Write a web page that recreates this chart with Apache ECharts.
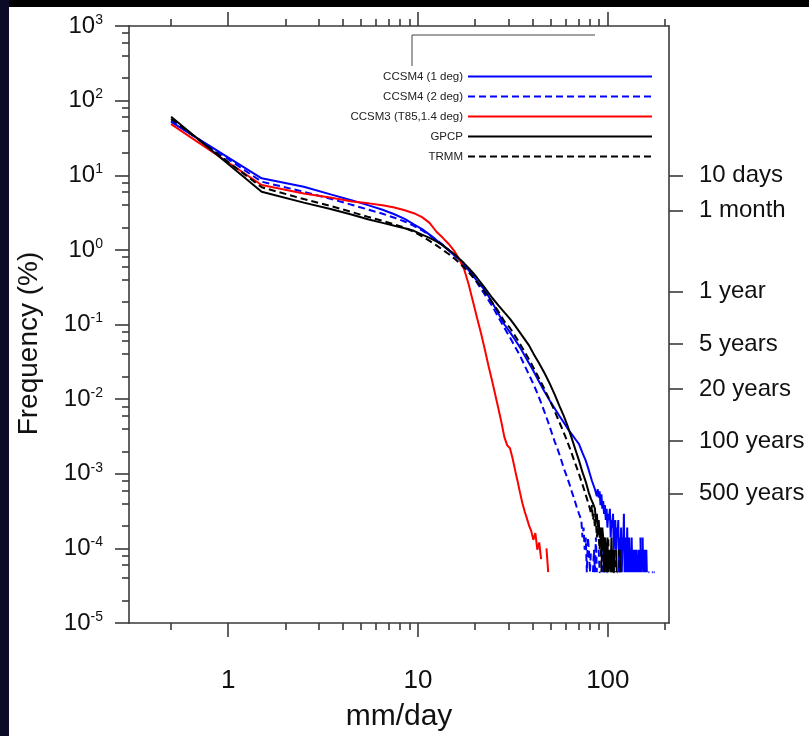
<!DOCTYPE html>
<html><head><meta charset="utf-8">
<script src="https://cdn.jsdelivr.net/npm/echarts@6/dist/echarts.min.js"></script>
<style>html,body{margin:0;padding:0;background:#000;}#c{width:809px;height:736px;}</style>
</head><body><div id="c"></div>
<script>
// ---------- data ----------
const seriesNames = ['CCSM4 (1 deg)', 'CCSM4 (2 deg)', 'CCSM3 (T85,1.4 deg)', 'GPCP', 'TRMM'];

const ccsm4_1X = [0.5,1.5,2.5,3.5,4.5,5.5,6.5,7.5,8.5,9.5,10.5,11.5,12.5,13.5,14.5,15.5,16.5,17.5,18.5,19.5,20.5,22.5,24.5,26.5,28.5,30.5,32.5,34.5,36.5,38.5,40.5,43.5,46.5,49.5,52.5,55.5,58.5,61.5,64.5,67.5,70.5,73.5,76.5,79.5,82.5,85.5,87.5,88.5,89.5,90.5,91.5,92.5,93.5,94.5,95.5,96.5,97.5,98.5,99.5,100.5,101.5,102.5,103.5,104.5,105.5,106.5,107.5,108.5,109.5,110.5,111.5,112.5,113.5,114.5,115.5,116.5,117.5,118.5,119.5,120.5,121.5,122.5,123.5,124.5,125.5,126.5,127.5,128.5,129.5,130.5,131.5,132.5,133.5,134.5,135.5,136.5,137.5,138.5,139.5,140.5,141.5,142.5,143.5,144.5,145.5,146.5,147.5,148.5,149.5,150.5,151.5,152.5,153.5,154.5,155.5,156.5,157.5,158.5,159.5,160.5,161.5,162.5,163.5,164.5,165.5,166.5,167.5,168.5,169.5,170.5,171.5,172.5,173.5,174.5,175.5,176.5,177.5];
const ccsm4_1Y = [52,9.1,7.0,5.5,4.6,3.95,3.45,3.0,2.6,2.2,1.9,1.6,1.35,1.15,0.98,0.85,0.74,0.63,0.53,0.45,0.38,0.29,0.2,0.14,0.1,0.079,0.062,0.049,0.038,0.03,0.024,0.017,0.0125,0.0095,0.0075,0.006,0.0049,0.004,0.0034,0.0029,0.0025,0.0019,0.0015,0.0011,0.0008,0.00062,0.0005,0.00062,0.00048,0.00058,0.00038,0.00053,0.00034,0.00043,0.00029,0.00038,0.00024,0.00034,0.00019,0.00029,0.00024,0.00034,0.00014,0.00024,0.00019,0.00029,0.000096,0.00019,0.00024,0.000096,0.00019,0.00014,0.00024,0.000048,0.00014,0.000096,0.00019,0.000048,0.00014,0.000096,0.00029,0.000048,0.00014,0.000096,0.000048,0.00019,0.000048,0.000096,0.00014,0.000048,0.000096,0.000048,0.00014,0.000048,null,0.000096,0.000048,0.000096,null,0.000048,0.000096,0.000048,null,0.000048,0.000096,0.000048,null,0.00014,0.000048,0.000096,null,0.00014,0.000048,null,0.000048,0.000096,0.000048,null,0.000096,0.000048,0.000048,null,0.000048,0.000048,0.000048,null,0.000048,0.000048,null,0.000048,0.000048,0.000048,null,0.000048,0.000048,0.000048,0.000048];

const ccsm4_2X = [0.5,1.5,2.5,3.5,4.5,5.5,6.5,7.5,8.5,9.5,10.5,11.5,12.5,13.5,14.5,15.5,16.5,17.5,18.5,19.5,20.5,22.5,24.5,26.5,28.5,30.5,32.5,34.5,36.5,38.5,40.5,42.5,44.5,46.5,48.5,50.5,52.5,54.5,56.5,58.5,60.5,62.5,64.5,66.5,68.5,70.5,72.5,73.5,74.5,75.5,76.5,77.5,78.5,79.5,80.5,81.5,82.5,83.5,84.5,85.5,86.5,87.5,88.5,89.5,90.5,91.5,92.5,93.5,94.5,95.5,96.5,98.5,99.5];
const ccsm4_2Y = [54,8.2,6.0,4.8,4.0,3.45,3.05,2.7,2.4,2.1,1.82,1.58,1.36,1.17,1.0,0.86,0.74,0.63,0.53,0.44,0.36,0.25,0.18,0.125,0.09,0.067,0.05,0.038,0.028,0.021,0.016,0.012,0.0089,0.0066,0.0049,0.0036,0.0027,0.0021,0.0016,0.0012,0.00095,0.00075,0.00058,0.00046,0.00036,0.00029,0.00024,0.00014,0.00019,0.000096,0.00014,0.000048,0.00014,0.000096,0.000048,0.000096,null,0.000048,0.000096,0.000048,0.00014,0.000048,null,0.000096,0.000048,0.000048,null,0.000048,0.000096,0.000048,null,0.000048,0.000048];

const ccsm3X = [0.5,1.5,2.5,3.5,4.5,5.5,6.5,7.5,8.5,9.5,10.5,11.5,12.5,13.5,14.5,15.5,16.5,17.5,18.5,19.5,20.5,21.5,22.5,23.5,24.5,25.5,26.5,27.5,28.5,29.5,30.5,31.5,32.5,33.5,34.5,35.5,36.5,37.5,38.5,39.5,40.5,41.5,42.5,43.5,44.5,45.5,46.5,47.5,48.5];
const ccsm3Y = [48.5,7.4,5.7,5.0,4.45,4.2,3.95,3.7,3.4,3.1,2.75,2.3,1.75,1.45,1.2,0.97,0.75,0.55,0.34,0.2,0.12,0.075,0.046,0.028,0.018,0.0115,0.0075,0.0049,0.0031,0.0024,0.0022,0.0016,0.0011,0.00078,0.00055,0.0004,0.00031,0.00025,0.0002,0.00017,0.00013,0.00016,0.000096,0.00012,0.000072,null,null,0.0001,0.000048];

const gpcpX = [0.5,1.5,2.5,3.5,4.5,5.5,6.5,7.5,8.5,9.5,10.5,11.5,12.5,13.5,14.5,15.5,16.5,17.5,18.5,19.5,20.5,22.5,24.5,26.5,28.5,30.5,32.5,35.5,38.5,40.5,43.5,46.5,49.5,52.5,55.5,58.5,61.5,64.5,67.5,70.5,73.5,76.5,79.5,81.5,83.5,85.5,86.5,87.5,88.5,89.5,90.5,91.5,92.5,93.5,94.5,95.5,96.5,97.5,98.5,99.5,100.5,101.5,102.5,103.5,104.5,105.5,106.5,107.5,108.5,109.5,110.5,111.5,112.5,113.5,114.5,115.5,116.5,117.5,118.5,119.5];
const gpcpY = [61,6.0,4.3,3.5,2.95,2.55,2.3,2.1,1.95,1.8,1.6,1.45,1.3,1.15,1.0,0.88,0.76,0.66,0.57,0.49,0.42,0.31,0.23,0.18,0.145,0.119,0.096,0.07,0.052,0.041,0.03,0.022,0.016,0.0115,0.0082,0.006,0.0043,0.003,0.0021,0.0015,0.00105,0.00078,0.00055,0.00046,0.0004,0.00034,0.00024,0.00029,0.00019,0.00024,0.00014,0.00019,0.000096,0.00019,0.00014,0.000048,0.00014,0.000096,0.000048,0.00014,0.000048,0.000096,0.000096,0.000048,0.00014,0.000048,0.000096,0.000048,0.000048,null,0.000096,0.000048,null,0.000048,null,0.000096,0.000048,null,null,0.000048];

const trmmX = [0.5,1.5,2.5,3.5,4.5,5.5,6.5,7.5,8.5,9.5,10.5,11.5,12.5,13.5,14.5,15.5,16.5,17.5,18.5,19.5,20.5,22.5,24.5,26.5,28.5,30.5,33.5,36.5,39.5,42.5,45.5,48.5,51.5,54.5,57.5,60.5,63.5,66.5,69.5,72.5,75.5,78.5,80.5,81.5,82.5,83.5,84.5,85.5,86.5,87.5,88.5,89.5,90.5,91.5,92.5,93.5,94.5,95.5,96.5,97.5,98.5,99.5,100.5,101.5,102.5,103.5,104.5,105.5,106.5,107.5,108.5,109.5,110.5,111.5,112.5,113.5,114.5,115.5,116.5,117.5];
const trmmY = [57,6.9,4.8,3.85,3.2,2.75,2.45,2.2,1.98,1.75,1.52,1.32,1.15,1.0,0.88,0.77,0.67,0.58,0.5,0.43,0.37,0.27,0.2,0.15,0.11,0.09,0.062,0.043,0.03,0.021,0.015,0.0107,0.0077,0.0055,0.004,0.0029,0.0021,0.0015,0.0011,0.0008,0.00058,0.00042,0.00034,0.00029,0.00038,0.00024,0.00029,0.00019,0.00024,0.00014,0.00019,0.00014,0.000096,0.00019,0.000048,0.00014,0.000096,0.00014,0.000048,0.000096,0.000096,0.000048,0.00014,0.000048,null,0.000096,0.000048,0.000096,null,0.000048,0.000096,0.000048,null,0.000048,0.000048,null,0.000096,0.000048,null,0.000048];

// axis ticks / labels
const xMajorTicks = [1, 10, 100];
const xMinorTicks = [0.5, 2, 3, 4, 5, 6, 7, 8, 9, 20, 30, 40, 50, 60, 70, 80, 90, 200];
const yMajorExp = [-5, -4, -3, -2, -1, 0, 1, 2, 3];
const yMinorMult = [2, 4, 6, 8];
const returnDays = [10, 30, 365, 1826, 7305, 36525, 182625];
const returnLabels = ['10 days', '1 month', '1 year', '5 years', '20 years', '100 years', '500 years'];

// ---------- build ----------
const FONT = 'Liberation Sans, Arial, Helvetica, sans-serif';
const AX = '#3a3a3a';
const yMajorTicks = yMajorExp.map(e => Math.pow(10, e));
const yMinorTicks = [];
yMajorExp.slice(0, -1).forEach(e => yMinorMult.forEach(m => yMinorTicks.push(m * Math.pow(10, e))));
const returnFreq = returnDays.map(d => 100 / d);

function pairs(xs, ys) { return xs.map((x, i) => [x, ys[i] == null ? '-' : ys[i]]); }

const chart = echarts.init(document.getElementById('c'), null, {renderer: 'canvas'});
const axisLineStyle = {color: AX, width: 1.6};
function xAxisDef(pos, major, withLabel) {
  return {
    type: 'log', min: 0.3, max: 210, position: pos, gridIndex: 0,
    axisLine: {show: major, lineStyle: axisLineStyle},
    axisTick: {show: true, inside: false, length: major ? 14 : 7, customValues: major ? xMajorTicks : xMinorTicks, lineStyle: axisLineStyle},
    axisLabel: withLabel ? {show: true, customValues: xMajorTicks, margin: 45, fontSize: 26, fontFamily: FONT, color: '#111', formatter: v => String(Math.round(v))} : {show: false},
    splitLine: {show: false}, minorTick: {show: false}, minorSplitLine: {show: false}
  };
}
const xAxes = [xAxisDef('bottom', true, true), xAxisDef('bottom', false, false), xAxisDef('top', true, false), xAxisDef('top', false, false)];
Object.assign(xAxes[0], {name: 'mm/day', nameLocation: 'middle', nameGap: 79, nameMoveOverlap: false,
  nameTextStyle: {fontSize: 30, fontFamily: FONT, color: '#111'}});

const yAxes = [
  {
    type: 'log', min: 1e-5, max: 1e3, position: 'left',
    axisLine: {show: true, lineStyle: axisLineStyle},
    axisTick: {show: true, inside: false, length: 14, customValues: yMajorTicks, lineStyle: axisLineStyle},
    axisLabel: {show: true, customValues: yMajorTicks, margin: 26, color: '#111',
      formatter: v => '{b|10}{s|' + Math.round(Math.log10(v)) + '}',
      rich: {b: {fontSize: 24, fontFamily: FONT, color: '#111', lineHeight: 26},
             s: {fontSize: 14, fontFamily: FONT, color: '#111', verticalAlign: 'top', lineHeight: 26}}},
    splitLine: {show: false}, minorTick: {show: false},
    name: 'Frequency (%)', nameLocation: 'middle', nameGap: 86, nameMoveOverlap: false,
    nameTextStyle: {fontSize: 28, fontFamily: FONT, color: '#111', padding: [0, 38, 0, 0]}
  },
  {
    type: 'log', min: 1e-5, max: 1e3, position: 'left',
    axisLine: {show: false},
    axisTick: {show: true, inside: false, length: 7, customValues: yMinorTicks, lineStyle: axisLineStyle},
    axisLabel: {show: false}, splitLine: {show: false}, minorTick: {show: false}
  },
  {
    type: 'log', min: 1e-5, max: 1e3, position: 'right',
    axisLine: {show: true, lineStyle: axisLineStyle},
    axisTick: {show: true, inside: false, length: 14, customValues: returnFreq, lineStyle: axisLineStyle},
    axisLabel: {show: true, customValues: returnFreq, margin: 30, fontSize: 24, fontFamily: FONT, color: '#111',
      formatter: v => {
        let best = 0, bd = Infinity;
        returnFreq.forEach((f, i) => { const d = Math.abs(Math.log10(f) - Math.log10(v)); if (d < bd) { bd = d; best = i; } });
        return returnLabels[best];
      }},
    splitLine: {show: false}, minorTick: {show: false}
  }
];

function lineSeries(name, xs, ys, color, dashed) {
  return {
    name, type: 'line', xAxisIndex: 0, yAxisIndex: 0, data: pairs(xs, ys),
    symbol: 'none', showSymbol: false, connectNulls: false, smooth: false, animation: false,
    lineStyle: {color, width: 2, type: dashed ? [7, 4] : 'solid'},
    itemStyle: {color}, emphasis: {disabled: true}
  };
}

chart.setOption({
  backgroundColor: '#ffffff',
  animation: false,
  textStyle: {fontFamily: FONT},
  grid: {left: 129, top: 26, width: 540, height: 597, containLabel: false, outerBoundsMode: 'none'},
  xAxis: xAxes,
  yAxis: yAxes,
  legend: {
    orient: 'vertical', align: 'right', right: 156, top: 70.5, padding: 0,
    itemWidth: 184, itemHeight: 10, itemGap: 8,
    itemStyle: {opacity: 0},
    textStyle: {fontSize: 11.5, lineHeight: 12, fontFamily: FONT, color: '#222'},
    data: seriesNames, selectedMode: false
  },
  graphic: [
    {type: 'rect', shape: {x: 0, y: 0, width: 809, height: 7}, style: {fill: '#000'}, silent: true},
    {type: 'rect', shape: {x: 0, y: 0, width: 9, height: 736}, style: {fill: '#0b0b28'}, silent: true},
    {type: 'polyline', shape: {points: [[412, 66], [412, 35], [595, 35]]}, style: {stroke: '#444', lineWidth: 1, fill: null}, silent: true}
  ],
  series: [
    lineSeries(seriesNames[0], ccsm4_1X, ccsm4_1Y, '#0000ff', false),
    lineSeries(seriesNames[1], ccsm4_2X, ccsm4_2Y, '#0000ff', true),
    lineSeries(seriesNames[2], ccsm3X, ccsm3Y, '#ff0000', false),
    lineSeries(seriesNames[3], gpcpX, gpcpY, '#000000', false),
    lineSeries(seriesNames[4], trmmX, trmmY, '#000000', true)
  ]
});
</script></body></html>
